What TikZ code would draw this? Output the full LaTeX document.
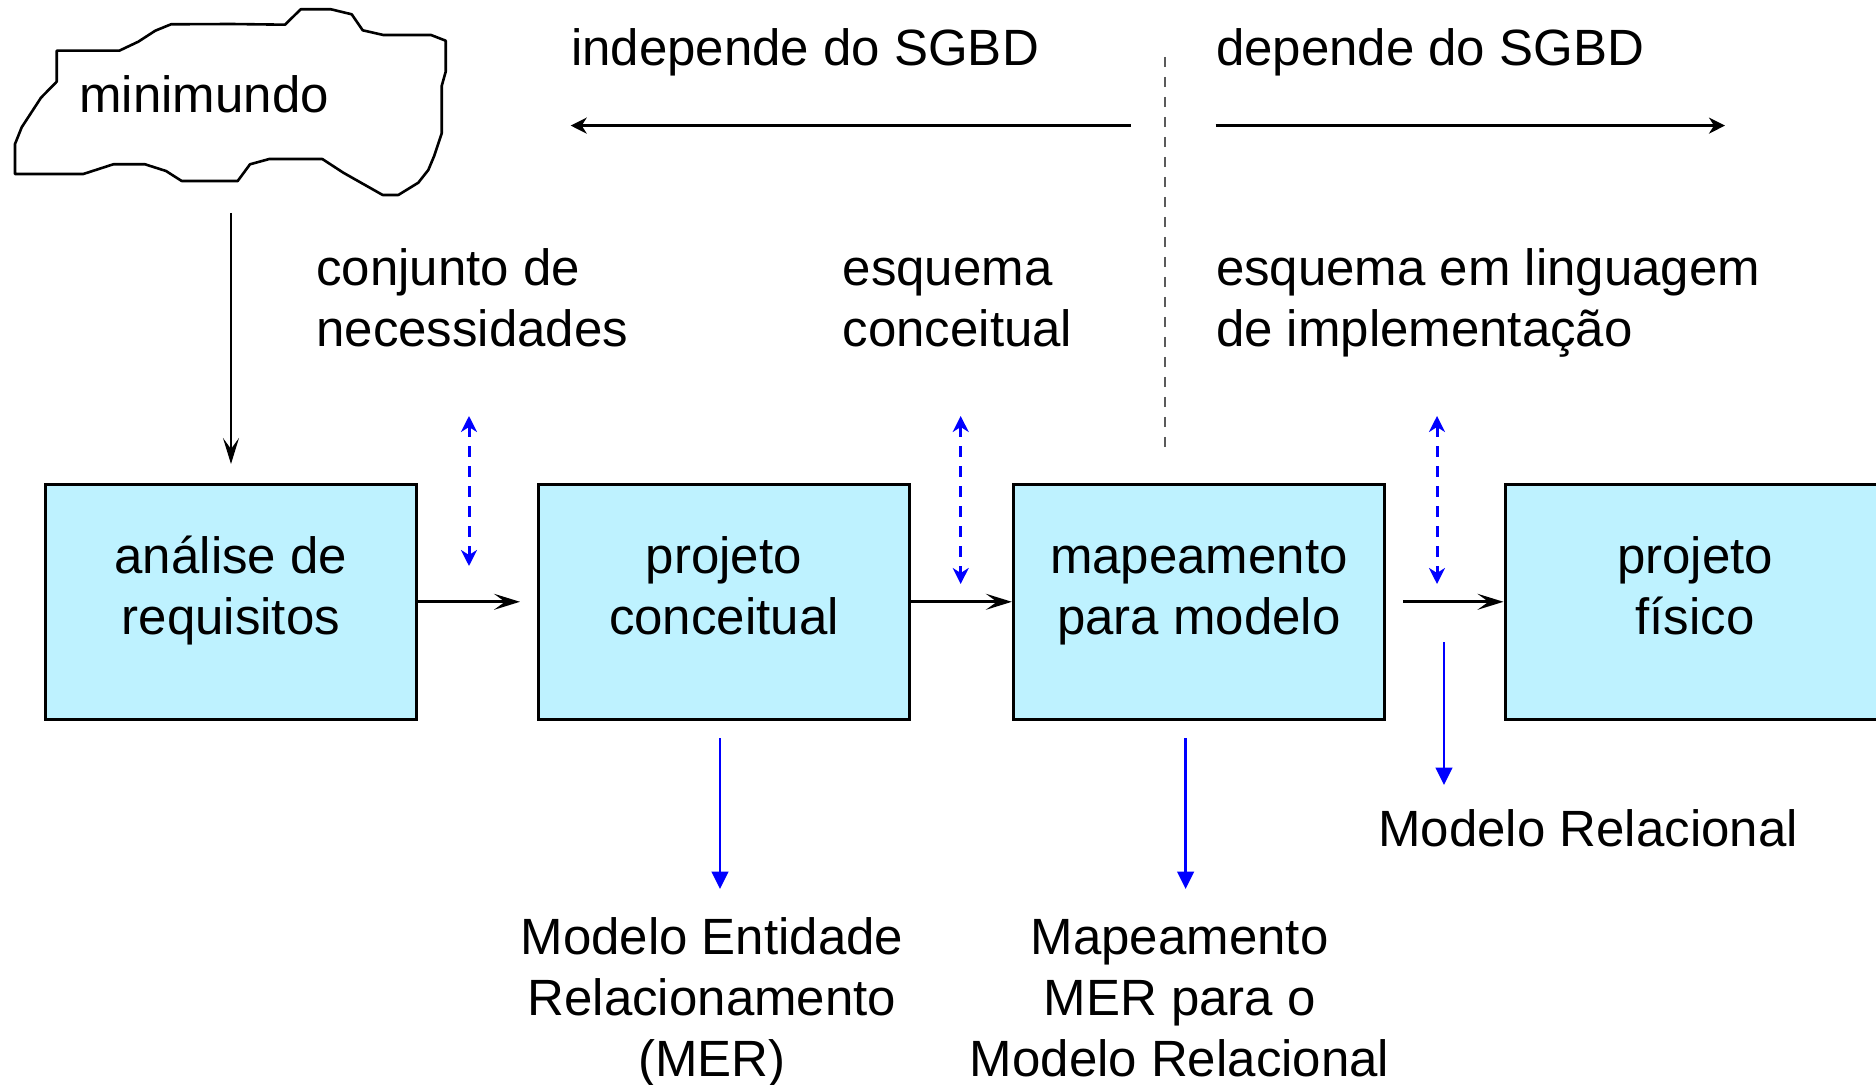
\documentclass[tikz,border=0pt]{standalone}
\usepackage{fontspec}
\setmainfont{Liberation Sans}
\usetikzlibrary{arrows.meta}
\definecolor{boxfill}{RGB}{190,242,255}
\definecolor{dashgray}{RGB}{90,90,90}
\newcommand{\txtL}[1]{\begin{tabular}[t]{@{}l@{}}#1\end{tabular}}
\newcommand{\txtC}[1]{\begin{tabular}[t]{@{}c@{}}#1\end{tabular}}
\newcommand{\txtB}[1]{\begin{tabular}{@{}c@{}}#1\end{tabular}}
\begin{document}
\begin{tikzpicture}[x=0.5pt,y=-0.5pt,
  every node/.style={font=\fontsize{25.5pt}{30.5pt}\selectfont, inner sep=0pt},
  stagebox/.style={draw, line width=1.5pt, fill=boxfill, minimum width=185.5pt, minimum height=117.5pt, text depth=33.9pt},
  flow/.style={line width=1.3pt, -{Stealth[length=13pt,width=8pt,inset=5.5pt]}},
  topflow/.style={line width=1.3pt, -{Stealth[length=8pt,width=8pt,inset=2.5pt]}},
  link/.style={blue, line width=1.5pt, dash pattern=on 5.3pt off 4.7pt,
    {Stealth[length=8pt,width=8pt,inset=2.5pt]}-{Stealth[length=8pt,width=8pt,inset=2.5pt]}},
  result/.style={blue, line width=1.3pt, -{Triangle[length=8.7pt,width=8.3pt]}},
  divider/.style={dashgray, line width=0.8pt, dash pattern=on 5pt off 5pt},
  cloudline/.style={line width=1.3pt, line join=round}]
\fill[white] (0,0) rectangle (1876,1085);
\clip (0,0) rectangle (1876,1085);

% cloud
\draw[cloudline] (56.7,50.7) -- (119.3,50.7) -- (138.3,41.7) -- (155.3,30.7) -- (171,24.3) -- (231,24) -- (285,24.7) -- (300.7,9.3) -- (331,9.3) -- (351.7,14.3) -- (362.7,30.3) -- (383.3,35) -- (431,35) -- (445.7,40.7) -- (445.7,71.7) -- (441.7,86) -- (441.7,133.3) -- (434.3,155.7) -- (428.3,170) -- (418.3,182.7) -- (398.3,195) -- (382.7,195) -- (365,185) -- (343.3,172.7) -- (322.3,159) -- (269.3,159) -- (250,164.3) -- (237.7,181) -- (181.7,181) -- (166,171) -- (145,164.3) -- (113.3,164.3) -- (83.3,174) -- (15,174) -- (15,144) -- (21.7,127.3) -- (41,97.7) -- (56.7,81.7) -- cycle;
\node[anchor=base west] (mini) at (79,113) {minimundo};

% header texts
\node[anchor=base west] (indep) at (570.7,65.8) {independe do SGBD};
\node[anchor=base west] (dep) at (1215.6,65.8) {depende do SGBD};
\coordinate (lstart) at (1130.6,125.6);
\coordinate (lend) at (570.7,125.6);
\coordinate (rstart) at (1215.6,125.6);
\coordinate (rend) at (1725,125.6);
\draw[topflow] (lstart) -- (lend);
\draw[topflow] (rstart) -- (rend);
\coordinate (dtop) at (1165,57);
\coordinate (dbot) at (1165,449);
\draw[divider] (dtop) -- (dbot);

% intermediate texts
\node[anchor=base west] (nec) at (315.9,286) {\txtL{conjunto de\\necessidades}};
\node[anchor=base west] (esq) at (842.3,286) {\txtL{esquema\\conceitual}};
\node[anchor=base west] (impl) at (1215.6,286) {\txtL{esquema em linguagem\\de implementação}};

% stage boxes
\node[stagebox] (b1) at (230.9,601.8) {\txtB{análise de\\requisitos}};
\node[stagebox] (b2) at (723.9,601.8) {\txtB{projeto\\conceitual}};
\node[stagebox] (b3) at (1198.9,601.8) {\txtB{mapeamento\\para modelo}};
\node[stagebox, minimum width=190pt] (b4) at (1695,601.8) {\txtB{projeto\\físico}};

% main flow
\coordinate (cs) at (231,213);
\coordinate (ce) at (231,464);
\draw[flow] (cs) -- (ce);
\coordinate (p1) at (520,601.8);
\draw[flow] (b1.east) -- (p1);
\draw[flow] (b2.east) -- (b3.west);
\coordinate (p3) at (1403,601.8);
\draw[flow] (p3) -- (b4.west);

% dashed links
\coordinate (l1a) at (469,416);   \coordinate (l1b) at (469,566);
\coordinate (l2a) at (960.7,416); \coordinate (l2b) at (960.7,584);
\coordinate (l3a) at (1437,416);  \coordinate (l3b) at (1437,584);
\draw[link] (l1a) -- (l1b);
\draw[link] (l2a) -- (l2b);
\draw[link] (l3a) -- (l3b);

% results
\node[anchor=base] (mer) at (711.9,954.7) {\txtC{Modelo Entidade\\Relacionamento\\(MER)}};
\node[anchor=base] (map) at (1179.6,954.7) {\txtC{Mapeamento\\MER para o\\Modelo Relacional}};
\node[anchor=base west] (rel) at (1378,846) {Modelo Relacional};
\coordinate (r1a) at (720,738);    \coordinate (r1b) at (720,889);
\coordinate (r2a) at (1185.6,738); \coordinate (r2b) at (1185.6,889);
\coordinate (r3a) at (1444,642.5); \coordinate (r3b) at (1444,785);
\draw[result] (r1a) -- (r1b);
\draw[result] (r2a) -- (r2b);
\draw[result] (r3a) -- (r3b);
\end{tikzpicture}
\end{document}
